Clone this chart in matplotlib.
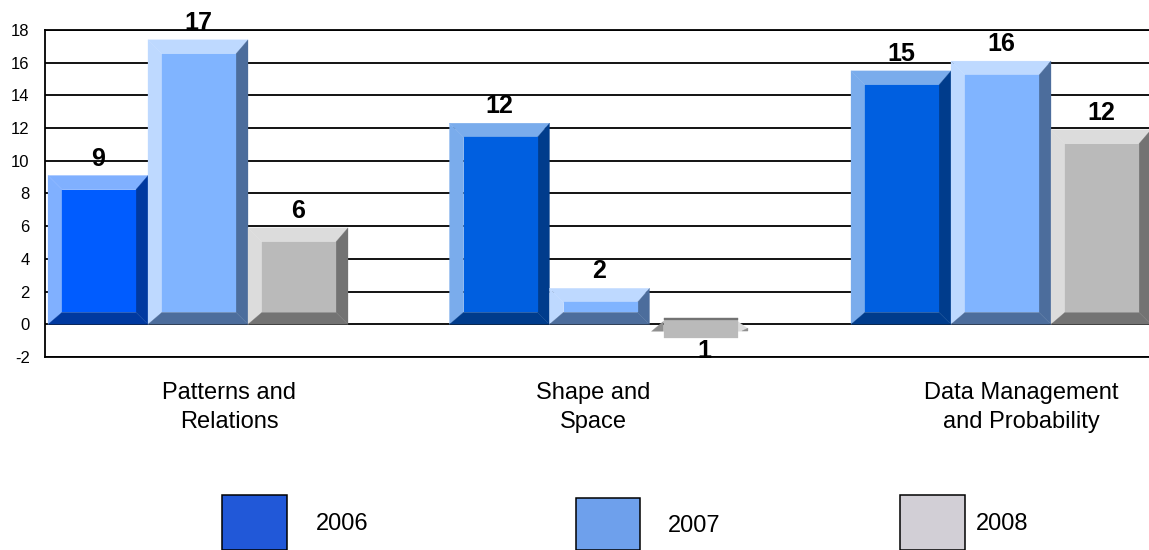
import matplotlib
matplotlib.use("Agg")
import matplotlib.pyplot as plt
from matplotlib.patches import Polygon, Rectangle

plt.rcParams['font.family'] = ['Liberation Sans', 'DejaVu Sans']

categories = ["Patterns and\nRelations", "Shape and\nSpace", "Data Management\nand Probability"]
years = ["2006", "2007", "2008"]
values_2006 = [9.1, 12.3, 15.5]
values_2007 = [17.4, 2.2, 16.1]
values_2008 = [5.9, -0.85, 11.9]
labels_2006 = ["9", "12", "15"]
labels_2007 = ["17", "2", "16"]
labels_2008 = ["6", "1", "12"]
yticks = [-2, 0, 2, 4, 6, 8, 10, 12, 14, 16, 18]
legend_colors = ["#2158D8", "#6EA0EC", "#D2CFD6"]

W, H = 1149, 550
LEFT, TOP, BOTTOM = 45, 30, 357
STEP, BAR, FIRST = 401.5, 100, 198

# (light, front, dark) per series; the first 2006 bar is a more saturated blue
pal_2006 = [("#80B0FF", "#005CFF", "#0039A0"),
            ("#7AACEC", "#005FE0", "#003C8C"),
            ("#7AACEC", "#005FE0", "#003C8C")]
pal_2007 = ("#BED9FF", "#80B4FF", "#4C6D9C")
pal_2008 = ("#DCDCDC", "#BABABA", "#737373")

fig = plt.figure(figsize=(W / 100, H / 100), dpi=100, facecolor="white")
ax = fig.add_axes([LEFT / W, 1 - BOTTOM / H, (W - LEFT) / W, (BOTTOM - TOP) / H])
ax.set_xlim((LEFT - FIRST) / STEP, (W - FIRST) / STEP)
ax.set_ylim(yticks[0], yticks[-1])
ax.set_yticks(yticks)
ax.set_yticklabels([str(t) for t in yticks], fontsize=12)
ax.tick_params(axis="y", length=0, pad=11)
ax.set_xticks([])
ax.grid(axis="y", color="black", lw=1.3, zorder=1)
ax.set_axisbelow(True)
ax.spines["right"].set_visible(False)
for s in ("left", "top", "bottom"):
    ax.spines[s].set_linewidth(1.3)

DX = 1 / STEP
DY = (yticks[-1] - yticks[0]) / (BOTTOM - TOP)


def poly(pts, color, z=3):
    ax.add_patch(Polygon(pts, closed=True, facecolor=color, edgecolor=color, lw=0.2, zorder=z))


def draw_bar(cx, value, colors):
    light, front, dark = colors
    w = BAR * DX / 2
    x0, x1 = cx - w, cx + w
    ix0, ix1 = x0 + 14 * DX, x1 - 12 * DX
    if value >= 0:
        iy0, iy1 = 12 * DY, value - 14 * DY
        poly([(x0, 0), (x0, value), (ix0, iy1), (ix0, iy0)], light)
        poly([(x0, value), (x1, value), (ix1, iy1), (ix0, iy1)], light)
        poly([(x1, value), (x1, 0), (ix1, iy0), (ix1, iy1)], dark)
        poly([(x0, 0), (x1, 0), (ix1, iy0), (ix0, iy0)], dark)
        poly([(ix0, iy0), (ix1, iy0), (ix1, iy1), (ix0, iy1)], front)
    else:
        iy1 = 6 * DY
        poly([(x0 + 2 * DX, -7 * DY), (ix0, iy1 - 3 * DY), (ix0, -7 * DY)], "#8F8F8F")
        poly([(ix1, -7 * DY), (ix1 + 10 * DX, -7 * DY), (ix1 + 10 * DX, iy1 - 10 * DY), (ix1, iy1 - 3 * DY)], light)
        poly([(ix1 + 4 * DX, -7 * DY), (ix1 + 10 * DX, -7 * DY), (ix1 + 10 * DX, iy1 - 10 * DY)], "#8F8F8F")
        poly([(ix0, value), (ix1, value), (ix1, iy1), (ix0, iy1)], front)
        poly([(ix0, iy1 - 2 * DY), (ix1, iy1 - 2 * DY), (ix1, iy1), (ix0, iy1)], dark)


series = [(values_2006, labels_2006, pal_2006),
          (values_2007, labels_2007, [pal_2007] * 3),
          (values_2008, labels_2008, [pal_2008] * 3)]
for s_idx, (vals, labs, pals) in enumerate(series):
    for c_idx, (v, lab, pal) in enumerate(zip(vals, labs, pals)):
        cx = c_idx + (s_idx - 1) * BAR * DX
        draw_bar(cx, v, pal)
        off_y = 17 if v >= 0 else -13
        off_x = 0 if v >= 0 else 5
        ax.annotate(lab, (cx, v), xytext=(off_x * 0.72, off_y * 0.72), textcoords="offset points",
                    ha="center", va="center", fontsize=18, fontweight="bold", color="black",
                    annotation_clip=False, zorder=5)

# category labels
cat_x = [229, 593, 1021]
for x, c in zip(cat_x, categories):
    fig.text(x / W, 1 - 407.5 / H, c, ha="center", va="center", fontsize=17,
             linespacing=1.42, color="black")

# legend drawn in figure pixels
leg_boxes = [(222, 495, 65), (576, 498, 64), (900, 495, 65)]
leg_text = [(316, 524), (668, 526), (976, 524)]
for (x, y, bw), col, (tx, ty), yr in zip(leg_boxes, legend_colors, leg_text, years):
    fig.add_artist(Rectangle((x / W, 1 - 550 / H), bw / W, (550 - y) / H,
                             transform=fig.transFigure, facecolor=col, edgecolor="black", lw=1.1))
    fig.text(tx / W, 1 - ty / H, yr, ha="left", va="center", fontsize=17, color="black")

fig.savefig("out.png", dpi=100)
